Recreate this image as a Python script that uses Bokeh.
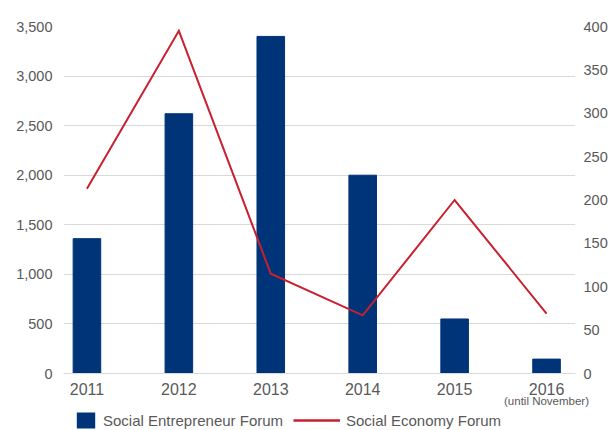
from bokeh.plotting import figure
from bokeh.layouts import column
from bokeh.models import (Range1d, LinearAxis, FixedTicker, NumeralTickFormatter,
                          Legend, LegendItem)
from bokeh.embed import file_html
from bokeh.resources import INLINE

years = ["2011", "2012", "2013", "2014", "2015", "2016"]
year_note = "(until November)"
entrepreneur_forum = [1360, 2620, 3400, 2000, 550, 145]
economy_forum = [213, 395, 115, 67, 200, 69]
left_ticks = [0, 500, 1000, 1500, 2000, 2500, 3000, 3500]
right_ticks = [0, 50, 100, 150, 200, 250, 300, 350, 400]
series_names = ["Social Entrepreneur Forum", "Social Economy Forum"]

NAVY = "#003478"
RED = "#c8202f"
TXT = "#595959"
GRID = "#d9d9d9"
FONT = "Liberation Sans"

xs = list(range(len(years)))

p = figure(width=612, height=409, output_backend="svg", toolbar_location=None,
           x_range=Range1d(-0.255, 5.315), y_range=Range1d(0, 3500))
p.extra_y_ranges = {"right": Range1d(0, 400)}
p.min_border_left = 63
p.min_border_right = 37
p.min_border_top = 26
p.min_border_bottom = 36
p.outline_line_color = None

bars = p.vbar(x=xs, top=entrepreneur_forum, width=0.3, fill_color=NAVY,
              line_color=NAVY)
line = p.line(x=xs, y=economy_forum, y_range_name="right", line_color=RED,
              line_width=2, line_join="miter")

p.xgrid.grid_line_color = None
p.ygrid.grid_line_color = GRID
p.ygrid.ticker = FixedTicker(ticks=left_ticks)


def style_axis(ax, size, standoff):
    ax.major_tick_line_color = None
    ax.minor_tick_line_color = None
    ax.major_tick_out = 0
    ax.major_tick_in = 0
    ax.major_label_standoff = standoff
    ax.major_label_text_font = FONT
    ax.major_label_text_font_size = size
    ax.major_label_text_color = TXT


# x axis
xa = p.xaxis[0]
xa.ticker = FixedTicker(ticks=xs)
xa.major_label_overrides = {i: y for i, y in enumerate(years)}
xa.axis_line_color = GRID
style_axis(xa, "16px", 9)

# second x axis for the note under the last year
xa2 = LinearAxis(ticker=FixedTicker(ticks=[xs[-1]]),
                 major_label_overrides={xs[-1]: year_note})
xa2.axis_line_color = None
style_axis(xa2, "11.5px", -3)
p.add_layout(xa2, "below")

# left axis
ya = p.yaxis[0]
ya.ticker = FixedTicker(ticks=left_ticks)
ya.formatter = NumeralTickFormatter(format="0,0")
ya.axis_line_color = None
style_axis(ya, "14.5px", 11)

# right axis
ra = LinearAxis(y_range_name="right", ticker=FixedTicker(ticks=right_ticks))
ra.axis_line_color = None
style_axis(ra, "14.5px", 8)
p.add_layout(ra, "right")

# legend strip (frame aligned with the main plot's frame)
lg = figure(width=612, height=21, output_backend="svg", toolbar_location=None,
            x_range=Range1d(0, 1), y_range=Range1d(0, 1),
            x_axis_type=None, y_axis_type=None)
lg.min_border_left = 63
lg.min_border_right = 37
lg.min_border_top = 0
lg.min_border_bottom = 0
lg.outline_line_color = None
lg.xgrid.grid_line_color = None
lg.ygrid.grid_line_color = None
# swatch renderers: they draw nothing in the strip; only their legend glyphs show
sw_bar = lg.vbar(x=[0.5], top=[0], bottom=[0], width=0.3, fill_color=NAVY,
                 line_color=None)
sw_line = lg.line(x=[0.2, 0.8], y=[5, 5], line_color=RED, line_width=2.5)

common = dict(orientation="horizontal", glyph_height=20, label_height=20,
              label_standoff=6, padding=0, margin=0, spacing=0,
              border_line_color=None, background_fill_alpha=0,
              label_text_font=FONT, label_text_font_size="15px",
              label_text_color=TXT)
leg1 = Legend(items=[LegendItem(label=series_names[0], renderers=[sw_bar])],
              location=(11, 0), glyph_width=23, **common)
leg2 = Legend(items=[LegendItem(label=series_names[1], renderers=[sw_line])],
              location=(230, 0), glyph_width=47, **common)
lg.add_layout(leg1, "center")
lg.add_layout(leg2, "center")

layout = column(p, lg, spacing=0)
open("out.html", "w").write(file_html(layout, INLINE))
